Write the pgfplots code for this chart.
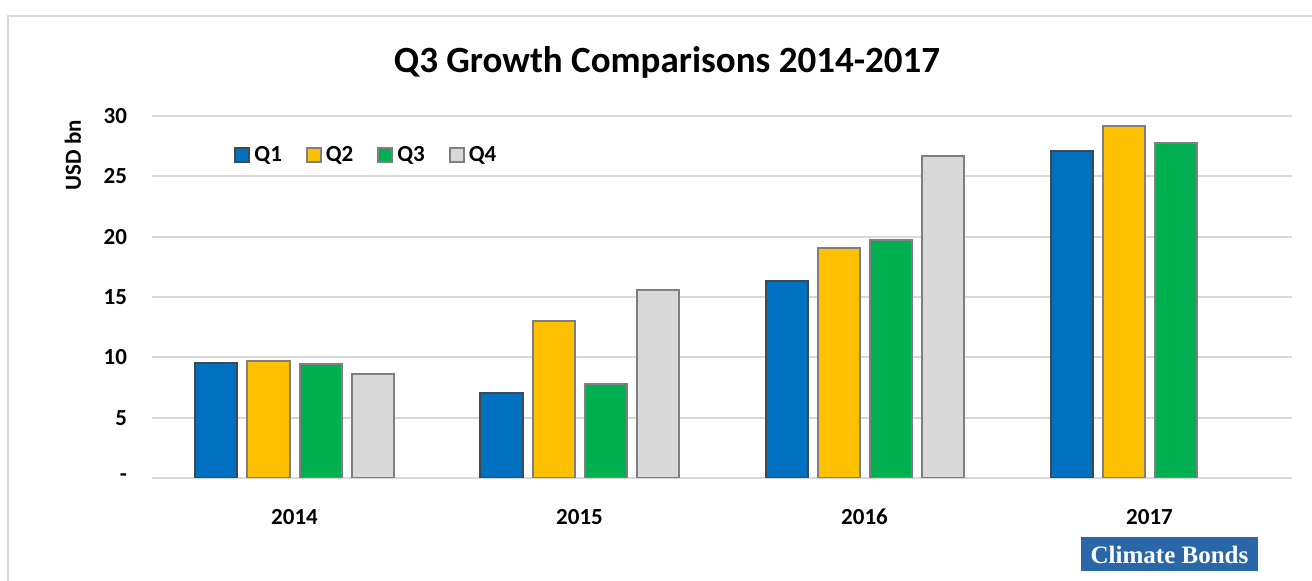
\documentclass[border=0pt]{standalone}
\usepackage{fontspec}
\setmainfont{Carlito}
\newfontfamily\logofont{Liberation Serif}
\usepackage{pgfplots}
\pgfplotsset{compat=1.18}

\definecolor{cQone}{HTML}{0070C0}
\definecolor{cQtwo}{HTML}{FFC000}
\definecolor{cQthree}{HTML}{00B050}
\definecolor{cQfour}{HTML}{D9D9D9}
\definecolor{gridc}{HTML}{D9D9D9}
\definecolor{edgec}{HTML}{7F7F7F}
\definecolor{logoc}{HTML}{2A67A8}

\begin{document}
\begin{tikzpicture}
\useasboundingbox (0,0) rectangle (656pt,-290.5pt);
% outer frame
\draw[gridc, line width=1pt] (4pt,-290.5pt) -- (4pt,-8pt) -- (656pt,-8pt);
% title
\node[font=\fontsize{18.5}{22}\selectfont\bfseries] at (333.5pt,-31pt) {Q3 Growth Comparisons 2014-2017};
% y label
\node[rotate=90, font=\fontsize{11.5}{13}\selectfont\bfseries] at (36.5pt,-77.5pt) {USD bn};

\begin{axis}[
    at={(76pt,-239pt)}, anchor=south west,
    scale only axis,
    width=570pt, height=181pt,
    xmin=-0.5, xmax=3.5,
    ymin=0, ymax=30,
    ybar=5pt,
    bar width=21pt,
    xtick={0,1,2,3},
    xticklabels={2014,2015,2016,2017},
    ytick={0,5,10,15,20,25,30},
    yticklabels={-\hspace{0.45em},5,10,15,20,25,30},
    tick style={draw=none},
    ymajorgrids=true,
    grid style={gridc, line width=1pt},
    axis x line*=bottom,
    axis y line*=left,
    x axis line style={gridc, line width=1pt, -},
    y axis line style={draw=none},
    ticklabel style={font=\fontsize{11.5}{13}\selectfont\bfseries},
    xticklabel style={anchor=base, yshift=-19pt},
    yticklabel style={xshift=-9pt},
    /pgf/number format/assume math mode=true,
    legend columns=-1,
    legend style={at={(0.072,0.892)}, anchor=west, draw=none, fill=none,
        inner sep=0pt, font=\fontsize{11.5}{13}\selectfont\bfseries,
        /tikz/every even column/.append style={column sep=10pt}},
    legend image code/.code={\draw[#1] (0pt,-3.5pt) rectangle (7pt,3.5pt);},
    every axis plot/.append style={line width=1pt},
]
\addplot[fill=cQone, draw=edgec!80!cQone!60!black] coordinates {(0,9.53) (1,7.04) (2,16.3) (3,27.1)};
\addplot[fill=cQtwo, draw=edgec] coordinates {(0,9.7) (1,13.0) (2,19.1) (3,29.2)};
\addplot[fill=cQthree, draw=edgec] coordinates {(0,9.45) (1,7.79) (2,19.7) (3,27.75)};
\addplot[fill=cQfour, draw=edgec] coordinates {(0,8.6) (1,15.6) (2,26.7)};
\legend{Q1,Q2,Q3,Q4}
\end{axis}

% logo
\fill[logoc] (540.5pt,-268.5pt) rectangle (629pt,-285.5pt);
\node[text=white, font=\logofont\fontsize{12.5}{13}\selectfont\bfseries, inner sep=0pt] at (584.75pt,-277.5pt) {Climate Bonds};
\end{tikzpicture}
\end{document}
